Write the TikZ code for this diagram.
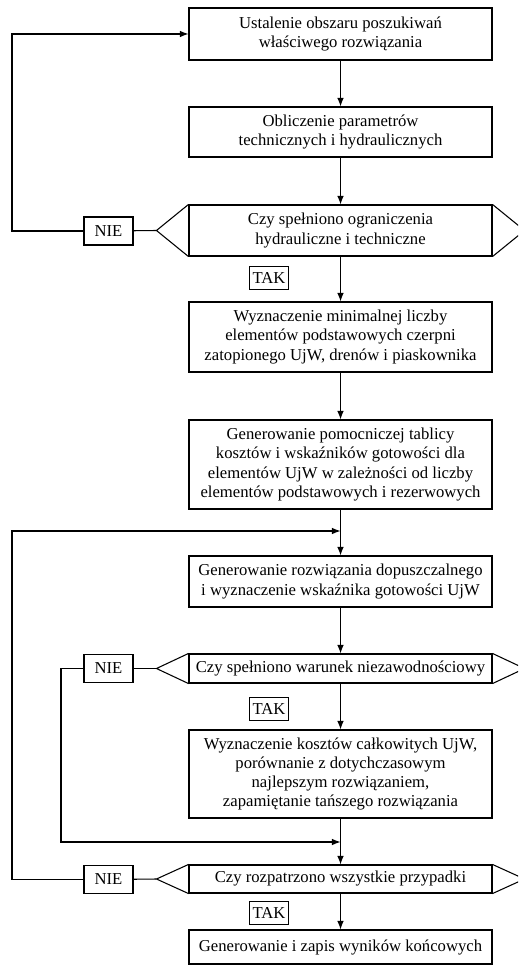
\documentclass[tikz,border=0pt]{standalone}
\usepackage{fontspec}
\setmainfont{Liberation Serif}
\usetikzlibrary{arrows.meta,calc}
\begin{document}
\begin{tikzpicture}[x=0.75pt,y=-0.75pt,
  every node/.style={font=\fontsize{12.5}{14.3}\selectfont},
  box/.style={draw, line width=0.8pt, minimum width=227.25pt, align=center, inner sep=0pt},
  lab/.style={draw, line width=0.8pt, inner sep=0pt},
  ln/.style={line width=0.8pt},
  arr/.style={line width=0.8pt, -{Latex[length=6.5pt,width=5pt]}}]
\useasboundingbox (0,0) rectangle (518,966);
\clip (0,0) rectangle (518,966);
% main column
\node[box, minimum height=39pt] (b1) at (340.5,34) {Ustalenie obszaru poszukiwań\\właściwego rozwiązania};
\node[box, minimum height=37.5pt] (b2) at (340.5,132) {Obliczenie parametrów\\technicznych i hydraulicznych};
\node[box, minimum height=38.25pt] (d1) at (340.5,230.5) {Czy spełniono ograniczenia\\hydrauliczne i techniczne};
\node[box, minimum height=52.5pt] (b3) at (340.5,337) {Wyznaczenie minimalnej liczby\\elementów podstawowych czerpni\\zatopionego UjW, drenów i piaskownika};
\node[box, minimum height=66.75pt] (b4) at (340.5,464.5) {Generowanie pomocniczej tablicy\\kosztów i wskaźników gotowości dla\\elementów UjW w zależności od liczby\\elementów podstawowych i rezerwowych};
\node[box, minimum height=38.25pt] (b5) at (340.5,581.5) {Generowanie rozwiązania dopuszczalnego\\i wyznaczenie wskaźnika gotowości UjW};
\node[box, minimum height=21.75pt] (d2) at (340.5,668.5) {Czy spełniono warunek niezawodnościowy};
\node[box, minimum height=66pt] (b6) at (340.5,774) {Wyznaczenie kosztów całkowitych UjW,\\porównanie z dotychczasowym\\najlepszym rozwiązaniem,\\zapamiętanie tańszego rozwiązania};
\node[box, minimum height=21pt] (d3) at (340.5,879) {Czy rozpatrzono wszystkie przypadki};
\node[box, minimum height=25.5pt] (b7) at (340.5,947) {Generowanie i zapis wyników końcowych};
% decision side triangles
\foreach \d in {d1,d2,d3}{
  \draw[ln] (\d.north west) -- ($(\d.west)+(-32,0)$) coordinate (\d l) -- (\d.south west);
  \draw[ln] (\d.north east) -- ($(\d.east)+(32,0)$) -- (\d.south east);
}
% labels
\node[lab, minimum width=36.75pt, minimum height=21pt] (n1) at (108.5,231) {NIE};
\node[lab, minimum width=36.75pt, minimum height=21pt] (n2) at (108.5,668.5) {NIE};
\node[lab, minimum width=36.75pt, minimum height=21pt] (n3) at (108.5,879.5) {NIE};
\node[lab, minimum width=29.25pt, minimum height=17.25pt] (t1) at (269,278) {TAK};
\node[lab, minimum width=29.25pt, minimum height=17.25pt] (t2) at (269,709) {TAK};
\node[lab, minimum width=29.25pt, minimum height=17.25pt] (t3) at (269,913) {TAK};
% helper coordinates
\coordinate (L) at (12,0);
\coordinate (L2) at (61,0);
\coordinate (j1) at (340.5,531);
\coordinate (j2) at (340.5,842);
% main flow
\draw[arr] (b1) -- (b2);
\draw[arr] (b2) -- (d1);
\draw[arr] (d1) -- (b3);
\draw[arr] (b3) -- (b4);
\draw[ln] (b4) -- (j1);
\draw[arr] (j1) -- (b5);
\draw[arr] (b5) -- (d2);
\draw[arr] (d2) -- (b6);
\draw[ln] (b6) -- (j2);
\draw[arr] (j2) -- (d3);
\draw[arr] (d3) -- (b7);
% NIE loops
\draw[ln] (d1l) -- (n1);
\draw[arr] (n1.west) -- (n1.west -| L) |- (b1.west);
\draw[ln] (d2l) -- (n2);
\draw[arr] (n2.west) -- (n2.west -| L2) |- (j2);
\draw[ln] (d3l) -- (n3);
\draw[arr] (n3.west) -- (n3.west -| L) |- (j1);
\end{tikzpicture}
\end{document}
